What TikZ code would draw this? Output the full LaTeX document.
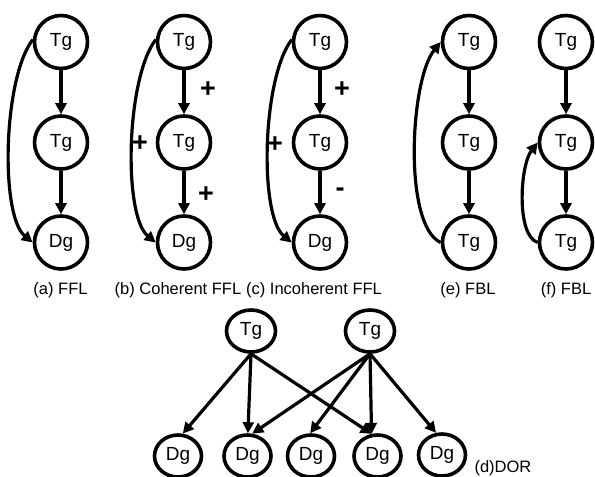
\documentclass[tikz,border=0pt]{standalone}
\usepackage{fontspec}
\setmainfont{Liberation Sans}
\usetikzlibrary{arrows.meta,shapes.geometric,calc}
\begin{document}
\begin{tikzpicture}[x=1pt,y=-1pt,
  gene/.style={draw, line width=3.6pt, circle, inner sep=0pt, minimum size=53pt, font=\fontsize{19}{19}\selectfont},
  dgene/.style={draw, line width=3.6pt, ellipse, inner sep=0pt, minimum width=47pt, minimum height=42pt, font=\fontsize{19}{19}\selectfont},
  tgene/.style={draw, line width=3.6pt, ellipse, inner sep=0pt, minimum width=49pt, minimum height=42pt, font=\fontsize{19}{19}\selectfont},
  edge/.style={line width=3.2pt, -{Triangle[length=11pt,width=11pt]}},
  captext/.style={font=\fontsize{16.5}{16.5}\selectfont},
  sign/.style={font=\fontsize{27}{27}\selectfont\bfseries}]
\path[use as bounding box] (0,0) rectangle (595,477);
% (a)
\node[gene] (a1) at (61,42) {Tg};
\node[gene] (a2) at (61,142.5) {Tg};
\node[gene] (a3) at (61,242.5) {Dg};
\draw[edge] (a1) -- (a2);
\draw[edge] (a2) -- (a3);
\draw[edge] (a1.175) .. controls ($(a1)+(-58,36)$) and ($(a3)+(-61,-27)$) .. (a3.west);
\node[captext] (la) at (60.5,290) {(a) FFL};
% (b)
\node[gene] (b1) at (184,42) {Tg};
\node[gene] (b2) at (184,142.5) {Tg};
\node[gene] (b3) at (184,242.5) {Dg};
\draw[edge] (b1) -- (b2);
\draw[edge] (b2) -- (b3);
\draw[edge] (b1.175) .. controls ($(b1)+(-58,36)$) and ($(b3)+(-61,-27)$) .. (b3.west);
\node[sign] (pb1) at (208,90) {+};
\node[sign] (pb2) at (140,144) {+};
\node[sign] (pb3) at (206,195) {+};
\node[captext] (lb) at (178,290) {(b) Coherent FFL};
% (c)
\node[gene] (c1) at (320,42) {Tg};
\node[gene] (c2) at (320,142.5) {Tg};
\node[gene] (c3) at (320,242.5) {Dg};
\draw[edge] (c1) -- (c2);
\draw[edge] (c2) -- (c3);
\draw[edge] (c1.175) .. controls ($(c1)+(-58,36)$) and ($(c3)+(-61,-27)$) .. (c3.west);
\node[sign] (pc1) at (342,90) {+};
\node[sign] (pc2) at (275,145) {+};
\node[sign] (pc3) at (340,192) {-};
\node[captext] (lc) at (314,290) {(c) Incoherent FFL};
% (e)
\node[gene] (e1) at (469,42) {Tg};
\node[gene] (e2) at (469,142.5) {Tg};
\node[gene] (e3) at (469,242.5) {Tg};
\draw[edge] (e1) -- (e2);
\draw[edge] (e2) -- (e3);
\draw[edge] (e3.west) .. controls ($(e3)+(-66,-17)$) and ($(e1)+(-59,38)$) .. (e1.west);
\node[captext] (le) at (468,290) {(e) FBL};
% (f)
\node[gene] (f1) at (566,42) {Tg};
\node[gene] (f2) at (566,142.5) {Tg};
\node[gene] (f3) at (566,242.5) {Tg};
\draw[edge] (f1) -- (f2);
\draw[edge] (f2) -- (f3);
\draw[edge] (f3.west) .. controls ($(f3)+(-50,-7)$) and ($(f2)+(-46,23)$) .. (f2.west);
\node[captext] (lf) at (566,290) {(f) FBL};
% (d) DOR
\node[tgene] (t1) at (251,331) {Tg};
\node[tgene] (t2) at (370,331) {Tg};
\node[dgene] (d1) at (178,456) {Dg};
\node[dgene] (d2) at (247.5,456) {Dg};
\node[dgene] (d3) at (311,456) {Dg};
\node[dgene] (d4) at (377.5,456) {Dg};
\node[dgene] (d5) at (442,455) {Dg};
\draw[edge] (t1.south) -- (d1.78);
\draw[edge] (t1.south) -- (d2.89);
\draw[edge] (t1.south) -- (d4.105);
\draw[edge] (t2.south) -- (d2.78);
\draw[edge] (t2.south) -- (d3.92);
\draw[edge] (t2.south) -- (d4.105);
\draw[edge] (t2.south) -- (d5.105);
\node[captext, anchor=west] (ld) at (471,468) {(d)DOR};
\end{tikzpicture}
\end{document}
